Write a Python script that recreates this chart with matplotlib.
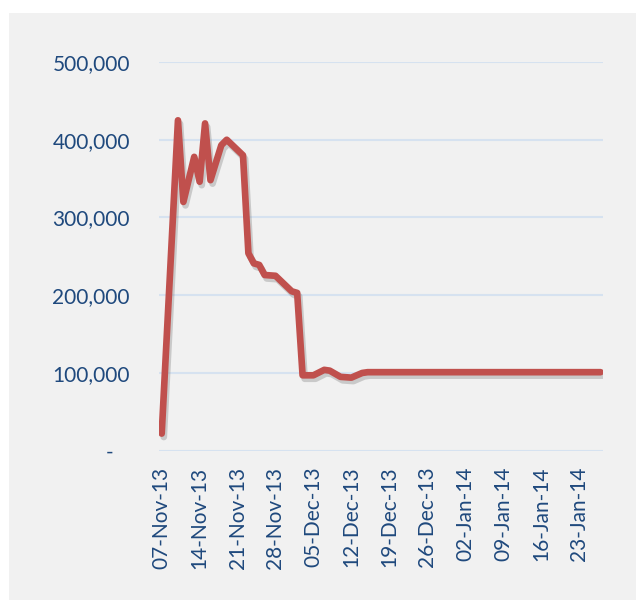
import matplotlib
matplotlib.use("Agg")
import matplotlib.pyplot as plt
import matplotlib.dates as mdates
import matplotlib.patheffects as pe
from matplotlib.patches import Rectangle
from matplotlib.ticker import FuncFormatter
import pandas as pd

plt.rcParams['font.family'] = ['Lato', 'DejaVu Sans']

# values
dates = ["2013-11-07", "2013-11-10", "2013-11-11", "2013-11-13", "2013-11-14",
         "2013-11-15", "2013-11-16", "2013-11-18", "2013-11-19", "2013-11-22",
         "2013-11-23", "2013-11-24", "2013-11-25", "2013-11-26", "2013-11-28",
         "2013-12-01", "2013-12-02", "2013-12-03", "2013-12-05", "2013-12-07",
         "2013-12-08", "2013-12-10", "2013-12-12", "2013-12-14", "2013-12-15",
         "2014-01-27"]
values = [22000, 425000, 320000, 378000, 346000,
          421000, 348000, 393000, 400000, 380000,
          254000, 241000, 239000, 226000, 225000,
          205000, 203000, 97000, 97000, 104000,
          103000, 95000, 94000, 100000, 101000,
          101000]
y_ticks = [0, 100000, 200000, 300000, 400000, 500000]

dates = pd.to_datetime(dates)

bg = '#f1f1f1'
text_col = '#1f497d'

fig = plt.figure(figsize=(6.36, 6.0), dpi=100, facecolor='white')
fig.patches.append(Rectangle((9 / 636, 0), 1, 1 - 13 / 600, transform=fig.transFigure,
                             facecolor=bg, edgecolor='none', zorder=-10))
ax = fig.add_axes([159 / 636, 1 - 450.7 / 600, (603.3 - 159) / 636, (450.7 - 62) / 600])
ax.set_facecolor(bg)

ax.plot(dates, values, color='#c0504d', linewidth=4.8, solid_joinstyle='round',
        solid_capstyle='round', zorder=3,
        path_effects=[pe.SimpleLineShadow(offset=(1.5, -2.5), shadow_color='gray', alpha=0.35),
                      pe.Normal()])

ax.set_ylim(0, 500000)
ax.set_yticks(y_ticks)
ax.yaxis.set_major_formatter(FuncFormatter(lambda v, p: '-   ' if v == 0 else f'{int(v):,}'))
ax.set_xlim(dates[0] - pd.Timedelta(hours=12), dates[-1] + pd.Timedelta(hours=12))
ax.set_xticks(pd.date_range("2013-11-07", "2014-01-23", freq="7D"))
ax.xaxis.set_major_formatter(mdates.DateFormatter('%d-%b-%y'))

ax.grid(axis='y', color='#d6e2f0', linewidth=1.5)
ax.set_axisbelow(True)
for s in ax.spines.values():
    s.set_visible(False)
ax.tick_params(axis='y', length=0, pad=21, labelsize=15, labelcolor=text_col)
ax.tick_params(axis='x', length=0, pad=11.5, labelsize=15, labelcolor=text_col, labelrotation=90)

fig.savefig('out.png', dpi=100, facecolor=fig.get_facecolor())
